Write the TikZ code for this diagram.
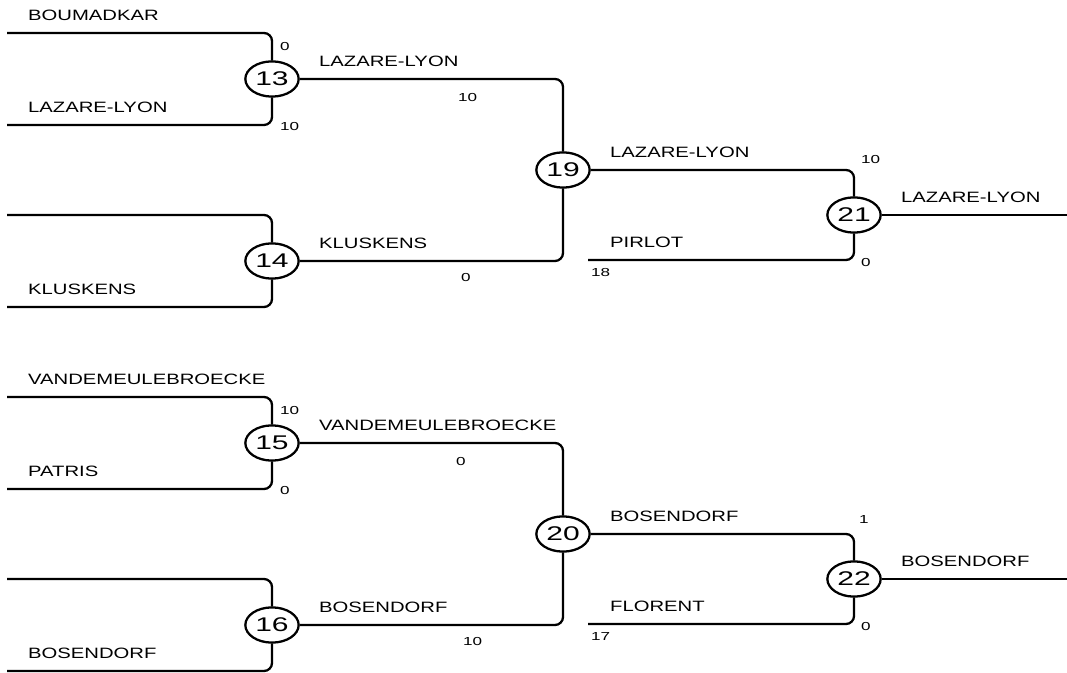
\documentclass[tikz,border=0pt]{standalone}
\usepackage{fontspec}
\setmainfont{Liberation Sans}
\usetikzlibrary{positioning}

\begin{document}
\begin{tikzpicture}[x=0.75pt, y=-0.75pt, line width=1.7pt, rounded corners=6pt,
    partido/.style={circle, draw, fill=white, minimum size=40pt, inner sep=0pt, yscale=.66,
        font=\fontsize{22.5}{23}\selectfont},
    nombre/.style={anchor=west, inner sep=0pt, yscale=.74, font=\fontsize{15.2}{16}\selectfont},
    tanteo/.style={anchor=west, inner sep=0pt, yscale=.68, font=\fontsize{12.8}{13}\selectfont}]
    \useasboundingbox (0,0) rectangle (1067,673);

    % Cuadro superior
    \node[partido] (m13) at (272,79) {13};
    \node[partido] (m14) at (272,261) {14};
    \node[partido] (m19) at (563,170) {19};
    \node[partido] (m21) at (854,215) {21};
    \coordinate (e13a) at (7,33);
    \coordinate (e13b) at (7,125);
    \coordinate (e14a) at (7,215);
    \coordinate (e14b) at (7,307);
    \coordinate (e21b) at (588,260);
    \coordinate (s21) at (1067,215);

    \draw (e13a) -| (m13);
    \draw (e13b) -| (m13);
    \draw (e14a) -| (m14);
    \draw (e14b) -| (m14);
    \draw (m13) -| (m19);
    \draw (m14) -| (m19);
    \draw (m19) -| (m21);
    \draw (e21b) -| (m21);
    \draw (m21) -- (s21);

    \node[nombre] (n13a) at (27,15) {BOUMADKAR};
    \node[nombre] (n13b) at (27,107) {LAZARE-LYON};
    \node[nombre] (n14b) at (27,289) {KLUSKENS};
    \node[nombre] (n19a) at (318,61) {LAZARE-LYON};
    \node[nombre] (n19b) at (318,243) {KLUSKENS};
    \node[nombre] (n21a) at (609,152) {LAZARE-LYON};
    \node[nombre] (n21b) at (609,242) {PIRLOT};
    \node[nombre] (n21c) at (900,197) {LAZARE-LYON};

    \node[tanteo] (t13a) at (279,47) {0};
    \node[tanteo] (t13b) at (279,127) {10};
    \node[tanteo] (t19a) at (457,98) {10};
    \node[tanteo] (t19b) at (460,278) {0};
    \node[tanteo] (t21b) at (590,273) {18};
    \node[tanteo] (t21a) at (860,160) {10};
    \node[tanteo] (t21c) at (860,263) {0};

    % Cuadro inferior
    \node[partido] (m15) at (272,443) {15};
    \node[partido] (m16) at (272,625) {16};
    \node[partido] (m20) at (563,534) {20};
    \node[partido] (m22) at (854,579) {22};
    \coordinate (e15a) at (7,397);
    \coordinate (e15b) at (7,489);
    \coordinate (e16a) at (7,579);
    \coordinate (e16b) at (7,671);
    \coordinate (e22b) at (588,624);
    \coordinate (s22) at (1067,579);

    \draw (e15a) -| (m15);
    \draw (e15b) -| (m15);
    \draw (e16a) -| (m16);
    \draw (e16b) -| (m16);
    \draw (m15) -| (m20);
    \draw (m16) -| (m20);
    \draw (m20) -| (m22);
    \draw (e22b) -| (m22);
    \draw (m22) -- (s22);

    \node[nombre] (n15a) at (27,379) {VANDEMEULEBROECKE};
    \node[nombre] (n15b) at (27,471) {PATRIS};
    \node[nombre] (n16b) at (27,653) {BOSENDORF};
    \node[nombre] (n20a) at (318,425) {VANDEMEULEBROECKE};
    \node[nombre] (n20b) at (318,607) {BOSENDORF};
    \node[nombre] (n22a) at (609,516) {BOSENDORF};
    \node[nombre] (n22b) at (609,606) {FLORENT};
    \node[nombre] (n22c) at (900,561) {BOSENDORF};

    \node[tanteo] (t15a) at (279,411) {10};
    \node[tanteo] (t15b) at (279,491) {0};
    \node[tanteo] (t20a) at (455,462) {0};
    \node[tanteo] (t20b) at (462,642) {10};
    \node[tanteo] (t22b) at (590,637) {17};
    \node[tanteo] (t22a) at (858,520) {1};
    \node[tanteo] (t22c) at (860,627) {0};
\end{tikzpicture}
\end{document}
